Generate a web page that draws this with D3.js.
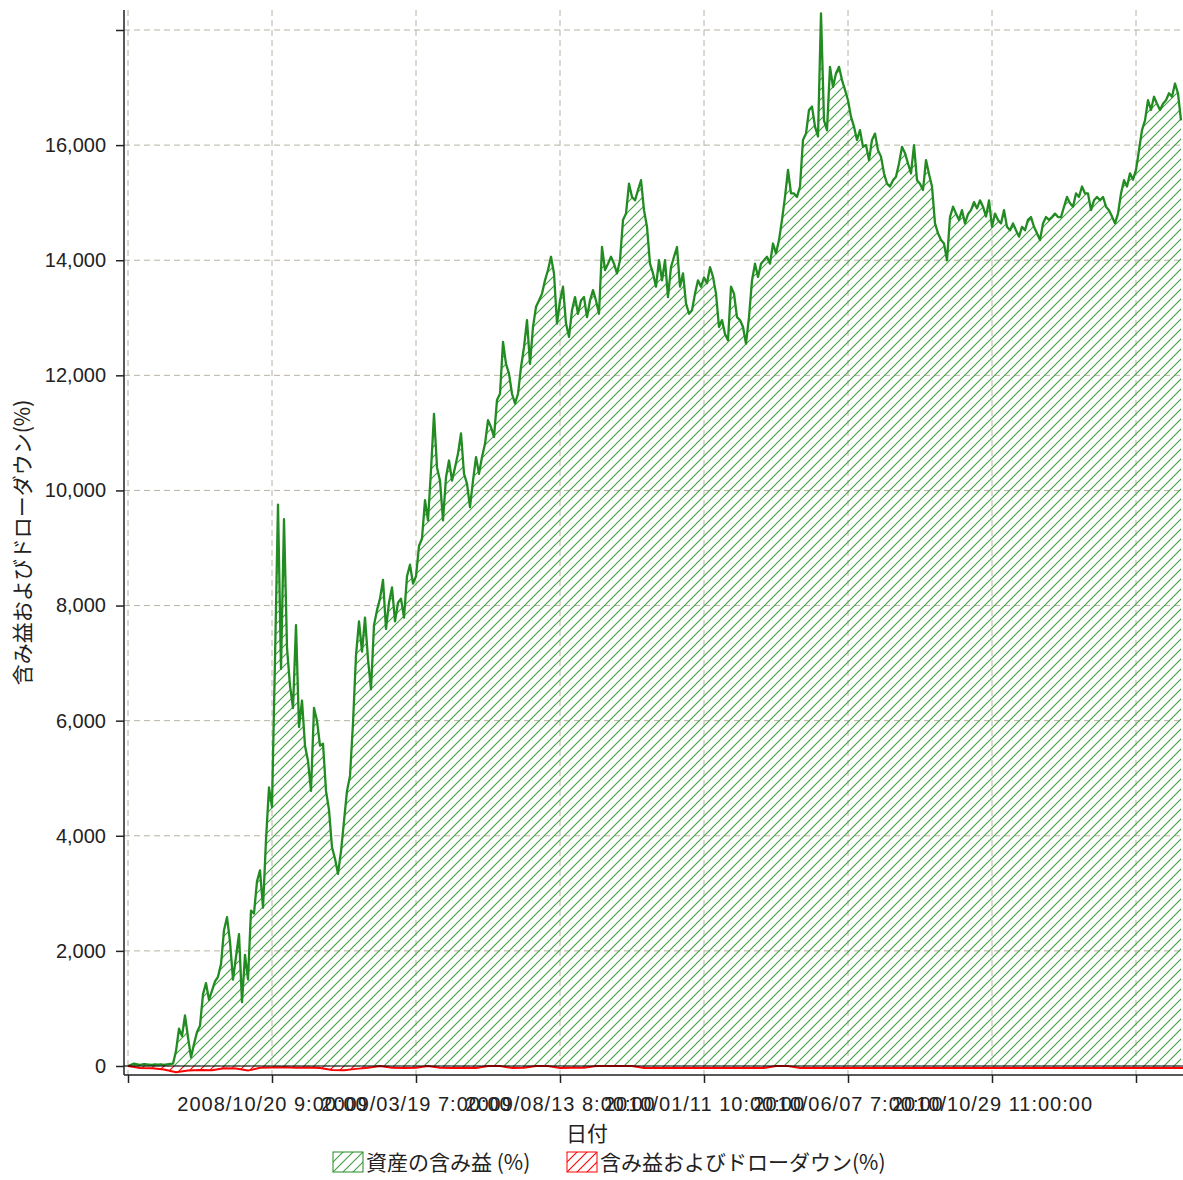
<!DOCTYPE html>
<html>
<head>
<meta charset="utf-8">
<script src="https://cdn.jsdelivr.net/npm/d3@7"></script>
<style>
  body { margin: 0; background: #fff; }
  svg { display: block; }
</style>
</head>
<body>
<div id="chart"></div>
<script>
// 資産の含み益 (%) — one value per bar index
const equity = [
  0, 20, 40, 30, 20, 30, 30, 25, 20, 30, 25, 30, 20, 30, 35, 40,
  260, 650, 520, 880, 500, 150, 380, 590, 700, 1245, 1440, 1150, 1310, 1470, 1550, 1770,
  2360, 2585, 2160, 1500, 1900, 2290, 1110, 1930, 1505, 2700, 2650, 3210, 3400, 2750, 3930, 4840,
  4500, 7070, 9755, 6900, 9500, 7270, 6610, 6220, 7660, 5890, 6350, 5565, 5300, 4780, 6220, 6000,
  5565, 5600, 4780, 4450, 3800, 3600, 3340, 3730, 4255, 4780, 5040, 5955, 7135, 7725, 7200, 7790,
  7070, 6545, 7660, 7920, 8120, 8445, 7595, 8050, 8315, 7725, 8050, 8120, 7790, 8510, 8710, 8380,
  8510, 9035, 9165, 9830, 9480, 10350, 11330, 10400, 10170, 9480, 10230, 10520, 10170, 10400, 10640, 10990,
  10290, 10120, 9710, 10170, 10580, 10290, 10580, 10810, 11220, 11100, 10930, 11570, 11680, 12580, 12200, 12030,
  11680, 11510, 11680, 12140, 12490, 12960, 12200, 12840, 13190, 13300, 13420, 13650, 13830, 14060, 13770, 12900,
  13300, 13540, 12900, 12670, 13130, 13360, 13070, 13300, 13360, 13010, 13300, 13480, 13300, 13070, 14230, 13830,
  13940, 14060, 13940, 13770, 14000, 14700, 14810, 15330, 15100, 15040, 15220, 15390, 14870, 14580, 13940, 13770,
  13540, 14000, 13650, 14000, 13360, 13880, 14060, 14230, 13540, 13770, 13250, 13070, 13130, 13420, 13650, 13540,
  13700, 13600, 13880, 13710, 13420, 12840, 12960, 12720, 12610, 13540, 13420, 13010, 12960, 12840, 12550, 13010,
  13650, 13940, 13710, 13940, 14000, 14060, 13940, 14290, 14120, 14350, 14700, 15100, 15570, 15160, 15160, 15100,
  15280, 16090, 16200, 16610, 16670, 16320, 16150, 18290, 16430, 16260, 17360, 17010, 17250, 17360, 17130, 16960,
  16780, 16490, 16320, 16090, 16260, 15970, 16000, 15740, 16090, 16200, 15910, 15800, 15510, 15330, 15280, 15390,
  15450, 15680, 15970, 15860, 15680, 15510, 16000, 15390, 15330, 15220, 15740, 15500, 15280, 14640, 14470, 14350,
  14290, 14000, 14750, 14930, 14810, 14700, 14870, 14640, 14800, 14870, 15010, 14900, 15040, 14930, 14760, 15040,
  14580, 14810, 14700, 14640, 14870, 14580, 14520, 14640, 14520, 14410, 14580, 14520, 14700, 14750, 14580, 14470,
  14350, 14640, 14750, 14700, 14750, 14810, 14750, 14750, 14930, 15100, 14990, 14930, 15160, 15100, 15280, 15160,
  15160, 14870, 15040, 15100, 15040, 15100, 14930, 14870, 14760, 14640, 14810, 15160, 15390, 15280, 15510, 15400,
  15570, 15910, 16260, 16430, 16780, 16610, 16840, 16720, 16610, 16720, 16780, 16900, 16840, 17070, 16900, 16430
];

// 含み益およびドローダウン(%) — one value every 4 bars
const drawdownStep = 4;
const drawdown = [
  0, -35, -40, -60, -110, -80, -70, -75, -40, -45, -80, -30, -25, -20, -30, -25,
  -35, -70, -75, -50, -30, 0, -30, -35, -30, 0, -30, -35, -30, -35, 0, 0,
  -35, -30, 0, 0, -35, -30, -30, 0, 0, 0, 0, -35, -35, -35, -35, -35,
  -35, -35, -35, -35, -35, -35, 0, 0, -35, -35, -35, -35, -35, -35, -35, -35,
  -35, -35, -35, -35, -35, -35, -35, -35, -35, -35, -35, -35, -35, -35, -35, -35,
  -35, -35, -35, -35, -35, -35, -35, -35, -35
];

const xTickIdx = [0, 48, 96, 144, 192, 240, 288, 336];
const xTickLabels = ["", "2008/10/20 9:00:00", "2009/03/19 7:00:00", "2009/08/13 8:00:00",
  "2010/01/11 10:00:00", "2010/06/07 7:00:00", "2010/10/29 11:00:00", ""];
const yTicks = [0, 2000, 4000, 6000, 8000, 10000, 12000, 14000, 16000, 18000];
const yTickLabels = ["0", "2,000", "4,000", "6,000", "8,000", "10,000", "12,000", "14,000", "16,000", ""];
const seriesNames = ["資産の含み益 (%)", "含み益およびドローダウン(%)"];
const xTitle = "日付";
const yTitle = "含み益およびドローダウン(%)";

const W = 1183, H = 1180;
const plot = { left: 124, right: 1183, top: 10, bottom: 1075 };
const GREEN = '#228b22';
const HATCH_GREEN = '#3f9f3f';
const RED = '#ff0000';
const GRID = '#b8b2a6';
const NUM_FONT = '"Liberation Sans", Arial, sans-serif';
const JP_FONT = '"Noto Sans CJK JP", "Noto Sans", sans-serif';

const svg = d3.select('#chart').append('svg').attr('width', W).attr('height', H);

const x = d3.scaleLinear().domain([0, equity.length - 1]).range([128, 1181]);
const y = d3.scaleLinear().domain([0, 18000]).range([1066, 30]);

const defs = svg.append('defs');
function hatch(id, color) {
  defs.append('pattern')
    .attr('id', id)
    .attr('patternUnits', 'userSpaceOnUse')
    .attr('width', 10).attr('height', 10)
    .append('path')
    .attr('d', 'M-1,1 l2,-2 M0,10 l10,-10 M9,11 l2,-2')
    .attr('stroke', color)
    .attr('stroke-width', 1.1)
    .attr('fill', 'none');
}
hatch('hatchGreen', HATCH_GREEN);
hatch('hatchRed', RED);

defs.append('clipPath').attr('id', 'plotClip')
  .append('rect')
  .attr('x', plot.left).attr('y', plot.top)
  .attr('width', plot.right - plot.left).attr('height', plot.bottom - plot.top);

// grid
const grid = svg.append('g');
grid.selectAll('line.hg')
  .data(yTicks)
  .enter().append('line')
  .attr('x1', plot.left).attr('x2', plot.right)
  .attr('y1', (d) => y(d)).attr('y2', (d) => y(d))
  .attr('stroke', GRID).attr('stroke-dasharray', '6,4');
grid.selectAll('line.vg')
  .data(xTickIdx)
  .enter().append('line')
  .attr('x1', (d) => x(d)).attr('x2', (d) => x(d))
  .attr('y1', plot.top).attr('y2', plot.bottom)
  .attr('stroke', GRID).attr('stroke-dasharray', '6,4');

const g = svg.append('g').attr('clip-path', 'url(#plotClip)');

const eqData = equity.map((v, i) => ({ i, v }));
const ddData = drawdown.map((v, j) => ({ i: j * drawdownStep, v }));

const area = d3.area().x((d) => x(d.i)).y0(y(0)).y1((d) => y(d.v));
const line = d3.line().x((d) => x(d.i)).y((d) => y(d.v));

g.append('path').datum(eqData).attr('d', area).attr('fill', 'url(#hatchGreen)');
g.append('path').datum(ddData).attr('d', area).attr('fill', 'url(#hatchRed)');
g.append('path').datum(eqData).attr('d', line)
  .attr('fill', 'none').attr('stroke', GREEN).attr('stroke-width', 2.3).attr('stroke-linejoin', 'round');
g.append('path').datum(ddData).attr('d', line)
  .attr('fill', 'none').attr('stroke', RED).attr('stroke-width', 2);

// zero rule
svg.append('line')
  .attr('x1', plot.left).attr('x2', plot.right)
  .attr('y1', y(0)).attr('y2', y(0))
  .attr('stroke', '#000').attr('stroke-width', 1.2);

// y axis
const yAxis = svg.append('g')
  .attr('transform', `translate(${plot.left},0)`)
  .call(d3.axisLeft(y).tickValues(yTicks).tickSize(8).tickSizeOuter(0)
    .tickFormat((d, i) => yTickLabels[i]));
yAxis.select('.domain').remove();
yAxis.selectAll('text')
  .attr('x', -18)
  .style('font-family', NUM_FONT).style('font-size', '20px').attr('fill', '#222');
yAxis.selectAll('.tick line').attr('stroke', '#222').attr('stroke-width', 1.5);
svg.append('line')
  .attr('x1', plot.left).attr('x2', plot.left)
  .attr('y1', plot.top).attr('y2', plot.bottom)
  .attr('stroke', '#222').attr('stroke-width', 1.5);

// x axis (labels overlap in the original too)
const xAxis = svg.append('g')
  .attr('transform', `translate(0,${plot.bottom})`)
  .call(d3.axisBottom(x).tickValues(xTickIdx).tickSize(8).tickSizeOuter(0)
    .tickFormat((d, i) => xTickLabels[i]));
xAxis.select('.domain').remove();
xAxis.selectAll('text')
  .attr('y', 22)
  .style('font-family', NUM_FONT).style('font-size', '20px')
  .style('letter-spacing', '1px').attr('fill', '#222');
xAxis.selectAll('.tick line').attr('stroke', '#222').attr('stroke-width', 1.5);
svg.append('line')
  .attr('x1', plot.left).attr('x2', plot.right)
  .attr('y1', plot.bottom).attr('y2', plot.bottom)
  .attr('stroke', '#222').attr('stroke-width', 1.5);

// titles
svg.append('text')
  .attr('x', 587).attr('y', 1141)
  .attr('text-anchor', 'middle')
  .style('font-family', JP_FONT).style('font-size', '21px').attr('fill', '#222')
  .text(xTitle);
svg.append('text')
  .attr('transform', `translate(30,${(plot.top + plot.bottom) / 2}) rotate(-90)`)
  .attr('text-anchor', 'middle')
  .style('font-family', JP_FONT).style('font-size', '21px').attr('fill', '#222')
  .text(yTitle);

// legend
const legendItems = [
  { name: seriesNames[0], x: 333, fill: 'url(#hatchGreen)', stroke: GREEN },
  { name: seriesNames[1], x: 567, fill: 'url(#hatchRed)', stroke: RED },
];
const lg = svg.selectAll('g.legend').data(legendItems).enter().append('g')
  .attr('transform', (d) => `translate(${d.x},1152)`);
lg.append('rect').attr('width', 30).attr('height', 20)
  .attr('fill', (d) => d.fill).attr('stroke', (d) => d.stroke).attr('stroke-width', 1);
lg.append('text').attr('x', 33).attr('y', 18)
  .style('font-family', JP_FONT).style('font-size', '21px').attr('fill', '#222')
  .text((d) => d.name);
</script>
</body>
</html>
